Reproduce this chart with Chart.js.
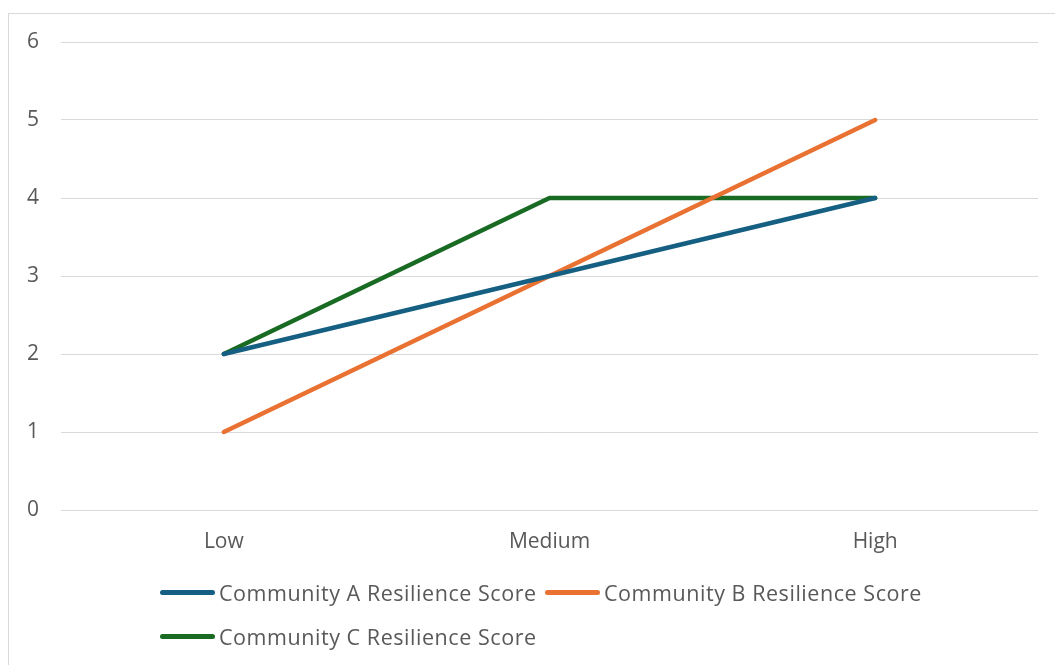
<!DOCTYPE html>
<html><head><meta charset="utf-8">
<script src="https://cdn.jsdelivr.net/npm/chart.js@4/dist/chart.umd.min.js"></script>
<style>
html,body{margin:0;padding:0;background:#fff;overflow:hidden;}
#wrap{position:relative;width:1055px;height:665px;}
#frame{position:absolute;left:8px;top:13px;width:1060px;height:700px;border:1px solid #d9d9d9;box-sizing:border-box;pointer-events:none;}
#c{position:absolute;left:0;top:0;}
#legend{position:absolute;left:0;top:0;width:1055px;height:665px;pointer-events:none;font-family:"Open Sans",sans-serif;font-size:21.5px;letter-spacing:0.55px;color:#595959;}
.li{position:absolute;display:flex;align-items:center;white-space:nowrap;}
.sw{width:55px;height:5px;border-radius:3px;margin-right:4px;}
</style></head>
<body><div id="wrap"><canvas id="c" width="1055" height="665"></canvas><div id="frame"></div><div id="legend"></div></div>
<script>
const categories = ["Low", "Medium", "High"];
const seriesNames = ["Community A Resilience Score", "Community B Resilience Score", "Community C Resilience Score"];
const communityA = [2, 3, 4];
const communityB = [1, 3, 5];
const communityC = [2, 4, 4];
const yTicks = [0, 1, 2, 3, 4, 5, 6];
const colors = ["#156082", "#E97132", "#196B24"];

const values = [communityA, communityB, communityC];
const datasets = values.map((v, i) => ({
  label: seriesNames[i], data: v, borderColor: colors[i], backgroundColor: colors[i],
  borderWidth: 4.5, pointRadius: 0, borderCapStyle: 'round', borderJoinStyle: 'round', tension: 0
}));

const chart = new Chart(document.getElementById('c'), {
  type: 'line',
  data: { labels: categories, datasets },
  options: {
    responsive: false, animation: false, devicePixelRatio: 1,
    layout: { padding: { left: 0, right: 17, top: 42, bottom: 0 } },
    plugins: { legend: { display: false }, tooltip: { enabled: false } },
    scales: {
      x: {
        offset: true,
        grid: { display: false, drawTicks: false },
        border: { display: false },
        ticks: { color: '#595959', font: { family: 'Open Sans', size: 21 }, padding: 19 },
        afterFit: s => { s.height = 155; }
      },
      y: {
        min: 0, max: 6,
        afterBuildTicks: s => { s.ticks = yTicks.map(v => ({ value: v })); },
        grid: { color: '#d9d9d9', lineWidth: 1, drawTicks: false },
        border: { display: false },
        ticks: { color: '#595959', font: { family: 'Open Sans', size: 21 }, padding: 22 },
        afterFit: s => { s.width = 61; }
      }
    }
  }
});

const leg = document.getElementById('legend');
const pos = [[160, 593], [545, 593], [160, 637]];
datasets.forEach((d, i) => {
  const el = document.createElement('div');
  el.className = 'li';
  el.style.left = pos[i][0] + 'px';
  el.style.top = (pos[i][1] - 16) + 'px';
  el.style.height = '30px';
  el.innerHTML = '<div class="sw" style="background:' + d.borderColor + '"></div><span>' + d.label + '</span>';
  leg.appendChild(el);
});
</script></body></html>
